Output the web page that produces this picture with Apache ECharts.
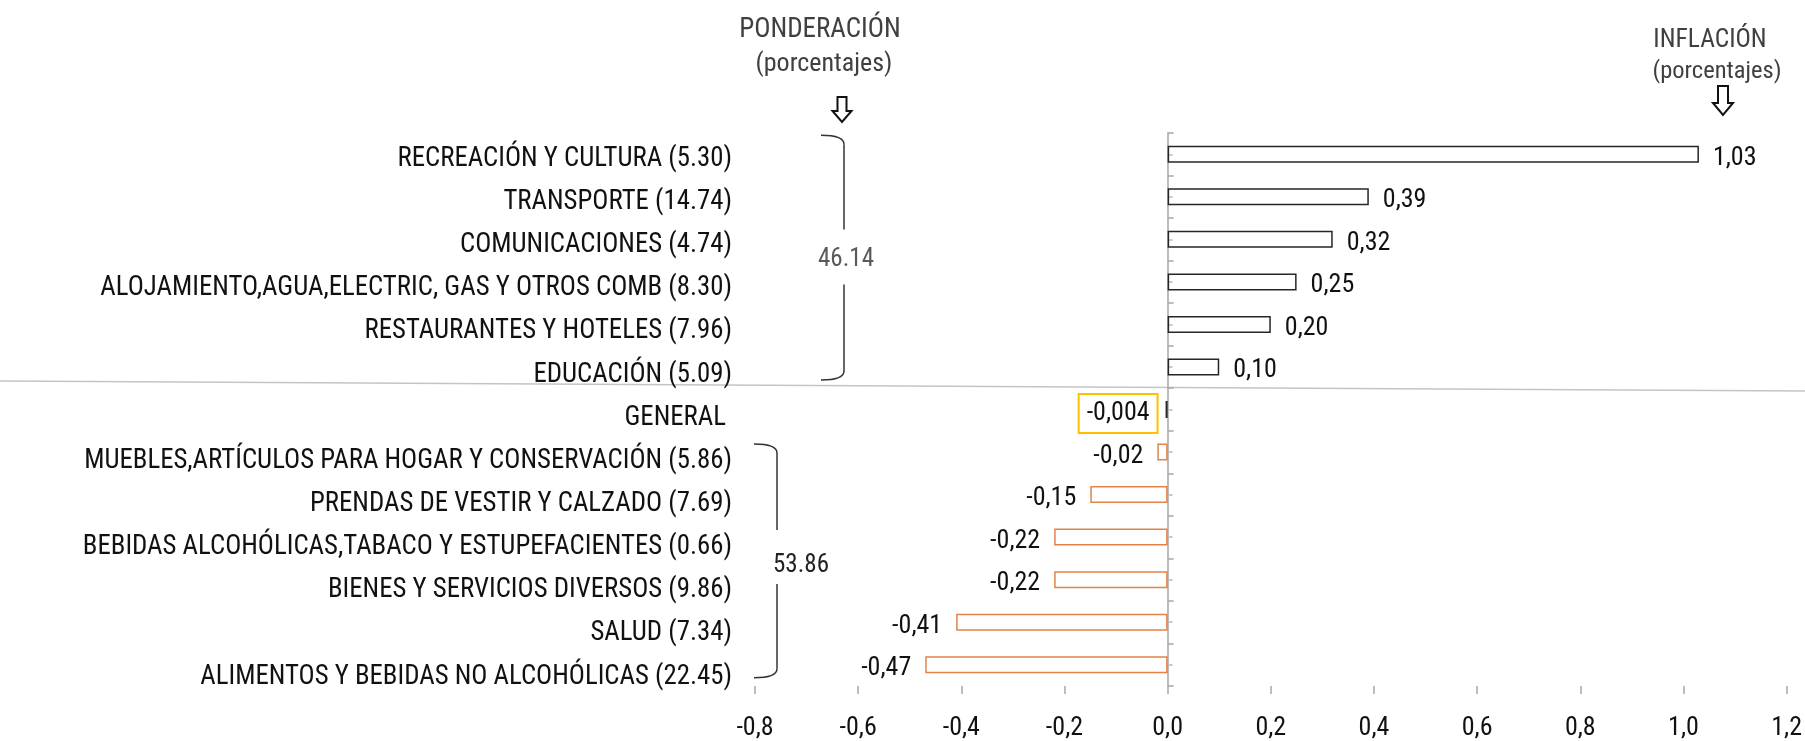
<!DOCTYPE html>
<html><head><meta charset="utf-8">
<script src="https://cdn.jsdelivr.net/npm/echarts@6/dist/echarts.min.js"></script>
<style>html,body{margin:0;padding:0;background:#fff}#c{width:1805px;height:741px}</style>
</head><body><div id="c"></div>
<script>
const names = ['RECREACIÓN Y CULTURA','TRANSPORTE','COMUNICACIONES','ALOJAMIENTO,AGUA,ELECTRIC, GAS Y OTROS COMB','RESTAURANTES Y HOTELES','EDUCACIÓN','GENERAL','MUEBLES,ARTÍCULOS PARA HOGAR Y CONSERVACIÓN','PRENDAS DE VESTIR Y CALZADO','BEBIDAS ALCOHÓLICAS,TABACO Y ESTUPEFACIENTES','BIENES Y SERVICIOS DIVERSOS','SALUD','ALIMENTOS Y BEBIDAS NO ALCOHÓLICAS'];
const weights = [5.30,14.74,4.74,8.30,7.96,5.09,null,5.86,7.69,0.66,9.86,7.34,22.45];
const inflation = [1.03,0.39,0.32,0.25,0.20,0.10,-0.004,-0.02,-0.15,-0.22,-0.22,-0.41,-0.47];
const valueLabels = ['1,03','0,39','0,32','0,25','0,20','0,10','-0,004','-0,02','-0,15','-0,22','-0,22','-0,41','-0,47'];
const groupTotals = ['46.14','53.86'];
const groups = [[0,5],[7,12]];
const xMin = -0.8, xMax = 1.2, xInterval = 0.2;

const FONT = "'Roboto Condensed','Liberation Sans',Arial,sans-serif";
const categories = names.map((n,i)=> weights[i]==null ? n : n + ' (' + weights[i].toFixed(2) + ')');
const GENERAL_IDX = 6;

const seriesData = inflation.map((v,i)=>{
  const neg = v < 0;
  const item = {
    value: v,
    itemStyle: { borderColor: (i===GENERAL_IDX || !neg) ? '#262626' : '#E3834A' },
    label: { position: neg ? 'left' : 'right', formatter: valueLabels[i] }
  };
  if (i===GENERAL_IDX) {
    item.label.borderColor = '#FFC000';
    item.label.borderWidth = 2;
    item.label.padding = [7,8,6,8];
    item.label.distance = 8;
    item.label.offset = [0,4];
  }
  return item;
});
const catLabelData = categories.map((c,i)=> i===GENERAL_IDX ? { value:c, textStyle:{ padding:[0,6,0,0] } } : c);

const chart = echarts.init(document.getElementById('c'));
const GRID_LEFT = 755, GRID_TOP = 133, GRID_BOTTOM = 47, GRID_RIGHT = 17;
const LABEL_DY = 4.5;
function buildOption(zeroOffset){
  return {
    animation:false,
    backgroundColor:'#fff',
    grid:[
      { left:GRID_LEFT, right:GRID_RIGHT, top:GRID_TOP, bottom:GRID_BOTTOM, containLabel:false },
      { left:GRID_LEFT, right:GRID_RIGHT, top:GRID_TOP+LABEL_DY, bottom:GRID_BOTTOM-LABEL_DY, containLabel:false }
    ],
    xAxis:[{
      type:'value', min:xMin, max:xMax, interval:xInterval,
      axisLine:{ onZero:false, lineStyle:{ color:'#a6a6a6', width:1.5 } },
      axisTick:{ show:true, length:8, lineStyle:{ color:'#a6a6a6', width:1.5 } },
      splitLine:{ show:false },
      axisLabel:{ margin:29, fontFamily:FONT, fontSize:26, color:'#111',
        formatter: v => v.toFixed(1).replace('.',',') }
    },{
      type:'value', gridIndex:1, min:xMin, max:xMax, interval:xInterval, show:false
    }],
    yAxis:[
      { type:'category', data:categories, inverse:true, position:'left',
        axisLine:{ show:false, onZero:false }, axisTick:{ show:false }, splitLine:{ show:false },
        axisLabel:{ show:false } },
      { type:'category', data:categories, inverse:true, position:'left', offset:zeroOffset,
        axisLine:{ show:true, onZero:false, lineStyle:{ color:'#a6a6a6', width:1.5 } },
        axisTick:{ show:true, inside:true, length:6, lineStyle:{ color:'#a6a6a6', width:1.5 } },
        axisLabel:{ show:false }, splitLine:{ show:false } },
      { type:'category', data:categories, inverse:true, position:'left', offset:zeroOffset,
        axisLine:{ show:false, onZero:false },
        axisTick:{ show:true, inside:true, alignWithLabel:true, length:5, lineStyle:{ color:'#bdbdbd', width:1.5 } },
        axisLabel:{ show:false }, splitLine:{ show:false } },
      { type:'category', gridIndex:1, data:catLabelData, inverse:true, position:'left',
        axisLine:{ show:false, onZero:false }, axisTick:{ show:false }, splitLine:{ show:false },
        axisLabel:{ interval:0, margin:23, fontFamily:FONT, fontSize:26.8, color:'#111' } }
    ],
    series:[{
      type:'bar', xAxisIndex:0, yAxisIndex:0, barWidth:17,
      data: seriesData,
      itemStyle:{ color:'rgba(255,255,255,0)', borderWidth:1.5 },
      label:{ show:true, distance:14, offset:[0,4], fontFamily:FONT, fontSize:26, color:'#111' }
    }]
  };
}
chart.setOption(buildOption(0));
const zeroX = chart.convertToPixel({xAxisIndex:0}, 0);
chart.setOption(buildOption(-(zeroX - GRID_LEFT)));

function arrow(cx, top, shaftBottom, tip, shaftW, headW){
  return { type:'polygon', shape:{ points:[
    [cx-shaftW/2, top],[cx+shaftW/2, top],[cx+shaftW/2, shaftBottom],[cx+headW/2, shaftBottom],
    [cx, tip],[cx-headW/2, shaftBottom],[cx-shaftW/2, shaftBottom] ] },
    style:{ fill:'#fff', stroke:'#111', lineWidth:2 } };
}
function bracket(out, x, top, bottom, gapTop, gapBottom, hook){
  const r = 9;
  const st = { stroke:'#333', lineWidth:1.5, fill:null };
  out.push({ type:'bezierCurve', shape:{ x1:x-hook, y1:top, cpx1:x, cpy1:top, x2:x, y2:top+r }, style:st });
  out.push({ type:'line', shape:{ x1:x, y1:top+r, x2:x, y2:gapTop }, style:st });
  out.push({ type:'line', shape:{ x1:x, y1:gapBottom, x2:x, y2:bottom-r }, style:st });
  out.push({ type:'bezierCurve', shape:{ x1:x, y1:bottom-r, cpx1:x, cpy1:bottom, x2:x-hook, y2:bottom }, style:st });
}
const yOf = i => chart.convertToPixel({yAxisIndex:0}, categories[i]);
const g = [];
g.push({ type:'line', shape:{ x1:0, y1:381, x2:1805, y2:391 }, style:{ stroke:'#c4c4c4', lineWidth:1.5 }, z:-1 });
g.push({ type:'text', x:820, y:30, style:{ text:'PONDERACIÓN', font:'27px '+FONT, fill:'#404040', align:'center', verticalAlign:'middle' } });
g.push({ type:'text', x:824, y:64, style:{ text:'(porcentajes)', font:'26px '+FONT, fill:'#404040', align:'center', verticalAlign:'middle' } });
g.push({ type:'text', x:1710, y:41, style:{ text:'INFLACIÓN', font:'25.5px '+FONT, fill:'#404040', align:'center', verticalAlign:'middle' } });
g.push({ type:'text', x:1717, y:72, style:{ text:'(porcentajes)', font:'24.5px '+FONT, fill:'#404040', align:'center', verticalAlign:'middle' } });
g.push(arrow(842, 97, 111, 122, 9, 19));
g.push(arrow(1723, 86, 103, 115, 10, 20));
{
  const t = yOf(groups[0][0]) - 19, b = yOf(groups[0][1]) + 13;
  const mid = (t+b)/2;
  bracket(g, 844, t, b, mid-28, mid+27, 23);
  g.push({ type:'text', x:846, y:mid+2, style:{ text:groupTotals[0], font:'25px '+FONT, fill:'#595959', align:'center', verticalAlign:'middle' } });
}
{
  const t = yOf(groups[1][0]) - 8, b = yOf(groups[1][1]) + 13;
  const mid = (t+b)/2;
  bracket(g, 777, t, b, mid-31, mid+23, 23);
  g.push({ type:'text', x:801, y:mid+5, style:{ text:groupTotals[1], font:'25px '+FONT, fill:'#222', align:'center', verticalAlign:'middle' } });
}
chart.setOption({ graphic:{ elements:g } });
</script>
</body></html>
